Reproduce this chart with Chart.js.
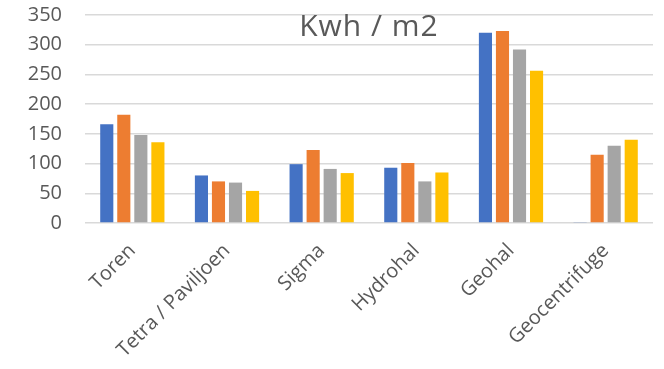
<!DOCTYPE html>
<html>
<head>
<meta charset="utf-8">
<script src="https://cdn.jsdelivr.net/npm/chart.js@4/dist/chart.umd.min.js"></script>
<style>
  html, body { margin: 0; padding: 0; background: #ffffff; }
  #wrap { width: 664px; height: 369px; position: relative; }
</style>
</head>
<body>
<div id="wrap"><canvas id="c" width="664" height="369"></canvas></div>
<script>
// Buildings and their yearly energy use per square metre
const categories = ['Toren', 'Tetra / Paviljoen', 'Sigma', 'Hydrohal', 'Geohal', 'Geocentrifuge'];
const reeks1 = [166, 80, 99, 93, 320, 1];
const reeks2 = [182, 70, 123, 101, 323, 115];
const reeks3 = [148, 68, 91, 70, 292, 130];
const reeks4 = [136, 54, 84, 85, 256, 140];
const yTicks = [0, 50, 100, 150, 200, 250, 300, 350];
const titleText = 'Kwh / m2';

const colors = ['#4472C4', '#ED7D31', '#A5A5A5', '#FFC000'];
const series = [reeks1, reeks2, reeks3, reeks4];

// Title drawn inside the plot area, over the gridlines
const overlayTitle = {
  id: 'overlayTitle',
  afterDraw(chart) {
    const { ctx, chartArea } = chart;
    ctx.save();
    ctx.font = '30px "Open Sans"';
    try { ctx.letterSpacing = '1px'; } catch (e) {}
    ctx.fillStyle = '#595959';
    ctx.textAlign = 'center';
    ctx.textBaseline = 'alphabetic';
    ctx.fillText(titleText, (chartArea.left + chartArea.right) / 2, 36);
    ctx.restore();
  }
};

new Chart(document.getElementById('c'), {
  type: 'bar',
  data: {
    labels: categories,
    datasets: series.map((d, i) => ({
      label: 'Reeks ' + (i + 1),
      data: d,
      backgroundColor: colors[i],
      borderWidth: 0,
      categoryPercentage: 0.72,
      barPercentage: 0.77
    }))
  },
  options: {
    responsive: false,
    animation: false,
    devicePixelRatio: 1,
    layout: { padding: { top: 15, right: 11, left: 0, bottom: 0 } },
    plugins: {
      legend: { display: false },
      title: { display: false },
      tooltip: { enabled: false }
    },
    scales: {
      x: {
        grid: { display: false, drawTicks: false },
        border: { display: false },
        ticks: {
          font: { family: '"Open Sans"', size: 20 },
          color: '#595959',
          minRotation: 45,
          maxRotation: 45,
          padding: 16,
          autoSkip: false
        },
        afterFit(scale) { scale.height = 146; }
      },
      y: {
        min: 0,
        max: 350,
        afterBuildTicks(scale) { scale.ticks = yTicks.map(v => ({ value: v })); },
        grid: { color: '#d9d9d9', lineWidth: 1.5, drawTicks: false },
        border: { display: false },
        ticks: {
          font: { family: '"Open Sans"', size: 20 },
          color: '#595959',
          padding: 23,
          autoSkip: false
        },
        afterFit(scale) {
          scale.width = 85;
          scale.paddingTop = 0;
          scale.paddingBottom = 0;
        }
      }
    }
  },
  plugins: [overlayTitle]
});
</script>
</body>
</html>
